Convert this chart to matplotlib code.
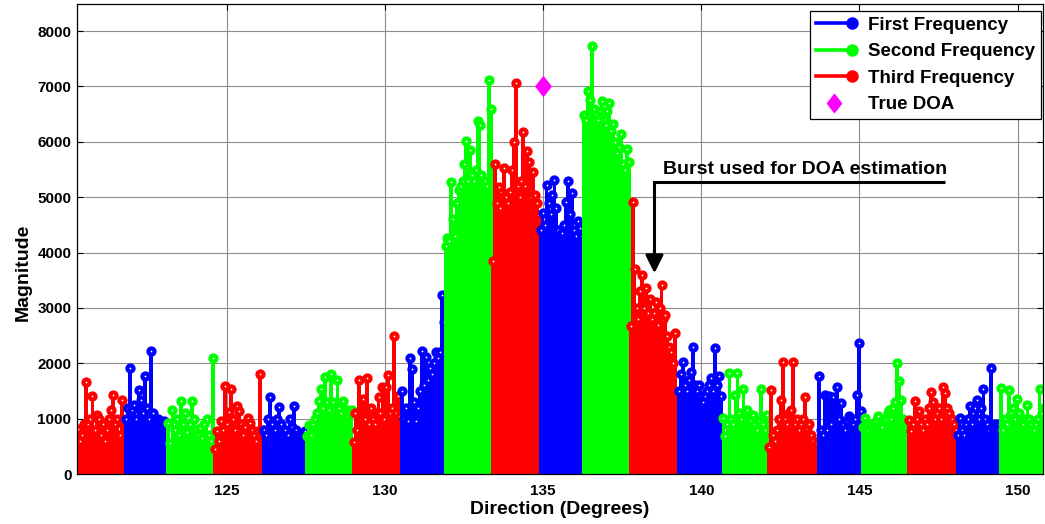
import numpy as np
import matplotlib
matplotlib.use('Agg')
import matplotlib.pyplot as plt
from matplotlib.lines import Line2D
from matplotlib.legend_handler import HandlerBase, HandlerLine2D

plt.rcParams['font.family'] = ['Liberation Sans', 'DejaVu Sans']
plt.rcParams['font.weight'] = 'bold'

# ---------------- data ----------------
# edges (degrees) of the successive bursts
burst_edges = [120.20, 121.78, 123.12, 124.60, 126.14, 127.51, 128.98, 130.50,
               131.89, 133.38, 134.89, 136.27, 137.74, 139.26, 140.67, 142.12,
               143.68, 145.07, 146.52, 148.07, 149.45, 150.85]
# frequency used by each burst
burst_freq = ['Third', 'First', 'Second'] * 7

burst_01 = [450, 820, 600, 700, 900, 1670, 900, 1000, 1400, 800, 1070, 1000, 700, 900, 600, 800, 1000, 1160, 1430, 900, 1000, 700, 1340, 980]
burst_02 = [1000, 1200, 1920, 1150, 1250, 1000, 1520, 1340, 1100, 1770, 1200, 1000, 2230, 1100, 950, 1000, 950, 900, 950, 900]
burst_03 = [930, 560, 1160, 800, 1000, 700, 1310, 900, 1100, 750, 900, 1310, 1000, 800, 700, 830, 650, 900, 1000, 700, 600, 2100]
burst_04 = [450, 770, 600, 950, 800, 1590, 900, 1120, 1530, 1000, 800, 1230, 1130, 900, 700, 850, 1020, 920, 800, 700, 600, 770, 1810, 800]
burst_05 = [800, 700, 1000, 1390, 900, 800, 1000, 1210, 900, 750, 800, 700, 1000, 850, 1230, 800, 700, 650, 700, 780]
burst_06 = [680, 890, 700, 900, 1000, 1100, 1310, 1530, 1200, 1750, 1300, 1150, 1810, 1300, 1200, 1690, 1200, 1100, 1310, 1150, 1160, 1100, 1150]
burst_07 = [580, 1110, 800, 1690, 1000, 1350, 1000, 1730, 900, 1190, 1000, 900, 1100, 1390, 1100, 1580, 1000, 1580, 1790, 1100, 1200, 2500, 1100, 1400, 1050]
burst_08 = [1500, 1000, 1200, 950, 2100, 1890, 1300, 950, 1200, 1500, 2220, 1600, 2120, 1700, 1910, 1800, 2000, 2210, 2100, 2200, 3240, 2750]
burst_09 = [4110, 4260, 4200, 5270, 4600, 4300, 4900, 5130, 5200, 5300, 5600, 6010, 5300, 5860, 5400, 5300, 5500, 6370, 6300, 5400, 5250, 5300, 5200, 7120, 6590]
burst_10 = [3840, 5600, 4900, 5190, 4800, 5000, 5530, 5000, 4900, 5100, 5490, 5990, 7070, 5200, 5000, 5300, 6170, 5200, 5840, 5640, 5000, 5460, 5040, 4900, 4680]
burst_11 = [4400, 4720, 4500, 5220, 4900, 4700, 5040, 5310, 4800, 4400, 4300, 4350, 4500, 4920, 5300, 4700, 5070, 4400, 4300, 4570, 4440, 4300]
burst_12 = [6490, 6400, 6910, 6760, 7740, 6600, 6500, 6400, 6550, 6730, 6500, 6300, 6550, 6710, 6200, 6320, 6000, 5800, 5900, 6140, 5600, 5500, 5870, 5630]
burst_13 = [2680, 4910, 3700, 3000, 2800, 3300, 3600, 3000, 3360, 2900, 3160, 2800, 2900, 3110, 2700, 3000, 3420, 2800, 2870, 2500, 2300, 2200, 2000, 2550, 1470]
burst_14 = [1500, 1800, 2030, 1600, 1500, 1700, 1850, 2300, 1600, 1500, 1610, 1400, 1300, 1400, 1500, 1600, 1730, 1500, 2280, 1600, 1770, 1400]
burst_15 = [1010, 690, 900, 1830, 1000, 900, 1430, 1830, 1100, 1000, 1530, 1100, 1160, 900, 950, 1070, 900, 800, 950, 1530, 900, 800, 1070]
burst_16 = [490, 1520, 700, 600, 800, 1000, 1330, 2030, 1000, 900, 1100, 1160, 2030, 900, 1000, 800, 900, 1000, 1390, 830, 900, 700, 600, 500, 550]
burst_17 = [1770, 800, 700, 1430, 800, 1400, 900, 1390, 1000, 1570, 1000, 1290, 900, 800, 950, 1040, 1000, 900, 1000, 1430, 2370, 1130]
burst_18 = [840, 1010, 900, 800, 890, 850, 900, 950, 1050, 900, 850, 950, 1000, 1100, 1160, 1000, 1200, 1300, 2010, 1680, 1340, 1000, 900, 950]
burst_19 = [980, 770, 900, 1310, 1000, 1130, 900, 800, 1000, 900, 1200, 1490, 1300, 1000, 1100, 1200, 1000, 1580, 1460, 1200, 1100, 1000, 900, 800]
burst_20 = [700, 1010, 800, 700, 900, 1000, 1230, 900, 1100, 1200, 1340, 1000, 1200, 1530, 1000, 900, 800, 1910, 830, 900, 850, 900]
burst_21 = [1550, 800, 1000, 900, 1520, 1100, 1200, 1000, 1350, 1100, 1000, 900, 1000, 1250, 1000, 900, 800, 900, 1000, 1530, 1100, 1200]

true_doa_x = [135.0]
true_doa_y = [7000]

x_ticks = [125, 130, 135, 140, 145, 150]
y_ticks = [0, 1000, 2000, 3000, 4000, 5000, 6000, 7000, 8000]

freq_labels = ['First', 'Second', 'Third']
freq_colors = {'First': '#0000ff', 'Second': '#00ff00', 'Third': '#ff0000'}

bursts = [burst_01, burst_02, burst_03, burst_04, burst_05, burst_06, burst_07,
          burst_08, burst_09, burst_10, burst_11, burst_12, burst_13, burst_14,
          burst_15, burst_16, burst_17, burst_18, burst_19, burst_20, burst_21]

# ---------------- figure ----------------
W, H = 1045, 524
fig = plt.figure(figsize=(W / 100, H / 100), dpi=100)
ax = fig.add_axes([77 / W, 1 - 474 / H, 966 / W, 470 / H])
ax.set_axisbelow(True)
ax.grid(True, color='#8c8c8c', linewidth=0.8, linestyle='-')

for i, vals in enumerate(bursts):
    lo, hi = burst_edges[i], burst_edges[i + 1]
    n = len(vals)
    step = (hi - lo) / n
    x = lo + step * (np.arange(n) + 0.5)
    c = freq_colors[burst_freq[i]]
    ml, sl, bl = ax.stem(x, vals, basefmt=' ')
    sl.set_color(c)
    sl.set_linewidth(2.0)
    sl.set_snap(False)
    sl.set_antialiased(False)
    ml.set_color(c)
    ml.set_marker('o')
    ml.set_markersize(4.4)
    ml.set_markeredgewidth(3.0)
    ml.set_markerfacecolor('white')
    ml.set_markeredgecolor(c)
    bl.set_visible(False)

diamond = [(0, 1), (0.78, 0), (0, -1), (-0.78, 0), (0, 1)]
ax.plot(true_doa_x, true_doa_y, linestyle='none', marker=diamond,
        markersize=14, color='#ff00ff', markeredgecolor='#ff00ff', zorder=5)

ax.set_xlim(120.27, 150.8)
ax.set_ylim(0, 8490)
ax.set_xticks(x_ticks)
ax.set_yticks(y_ticks)
ax.set_xticklabels([str(t) for t in x_ticks], fontsize=11, fontweight='bold')
ax.set_yticklabels([str(t) for t in y_ticks], fontsize=11, fontweight='bold')
ax.tick_params(direction='in', top=True, right=True, length=4, width=0.8)
ax.tick_params(axis='x', pad=7)
ax.tick_params(axis='y', pad=4)
for s in ax.spines.values():
    s.set_linewidth(0.9)
    s.set_color('black')

ax.set_xlabel('Direction (Degrees)', fontsize=14, fontweight='bold', labelpad=2)
ax.set_ylabel('Magnitude', fontsize=14, fontweight='bold')
ax.yaxis.set_label_coords(-0.047, 0.43)

# annotation
ax.plot([147.70, 138.52, 138.52], [5283, 5283, 4000], color='black', lw=2.2,
        solid_joinstyle='miter', solid_capstyle='butt', zorder=6)
ax.annotate('', xy=(138.52, 3627), xytext=(138.52, 4050),
            arrowprops=dict(arrowstyle='-|>,head_length=0.4,head_width=0.2',
                            mutation_scale=27, lw=2.2, color='black',
                            shrinkA=0, shrinkB=0), zorder=6)
ax.text(138.79, 5422, 'Burst used for DOA estimation', fontsize=14,
        fontweight='bold', va='baseline', ha='left', zorder=6)


# legend
class StemHandler(HandlerBase):
    def create_artists(self, legend, orig_handle, xdescent, ydescent,
                       width, height, fontsize, trans):
        y = height / 2 - ydescent
        c = orig_handle.get_color()
        line = Line2D([-xdescent, -xdescent + width], [y, y], color=c, lw=2.6)
        mk = Line2D([-xdescent + width], [y], marker='o', markersize=8,
                    color=c, markerfacecolor=c, markeredgecolor=c, linestyle='none')
        line.set_transform(trans)
        mk.set_transform(trans)
        return [line, mk]


handles = []
labels = []
for f in freq_labels:
    handles.append(Line2D([], [], color=freq_colors[f]))
    labels.append(f + ' Frequency')
doa_handle = Line2D([], [], linestyle='none', marker=diamond, markersize=13,
                    color='#ff00ff')
handles.append(doa_handle)
labels.append('True DOA')
hmap = {h: StemHandler() for h in handles[:3]}
hmap[doa_handle] = HandlerLine2D(numpoints=1)
leg = ax.legend(handles, labels, handler_map=hmap, loc='upper right',
                bbox_to_anchor=(1 - 2 / 966, 1 - 7 / 470),
                prop={'size': 13.5, 'weight': 'bold'}, frameon=True,
                fancybox=False, edgecolor='black', framealpha=1,
                borderpad=0.3, labelspacing=0.5, handlelength=1.9,
                handletextpad=0.9, borderaxespad=0.0)
leg.get_frame().set_linewidth(0.9)

fig.savefig('out.png', dpi=100)
